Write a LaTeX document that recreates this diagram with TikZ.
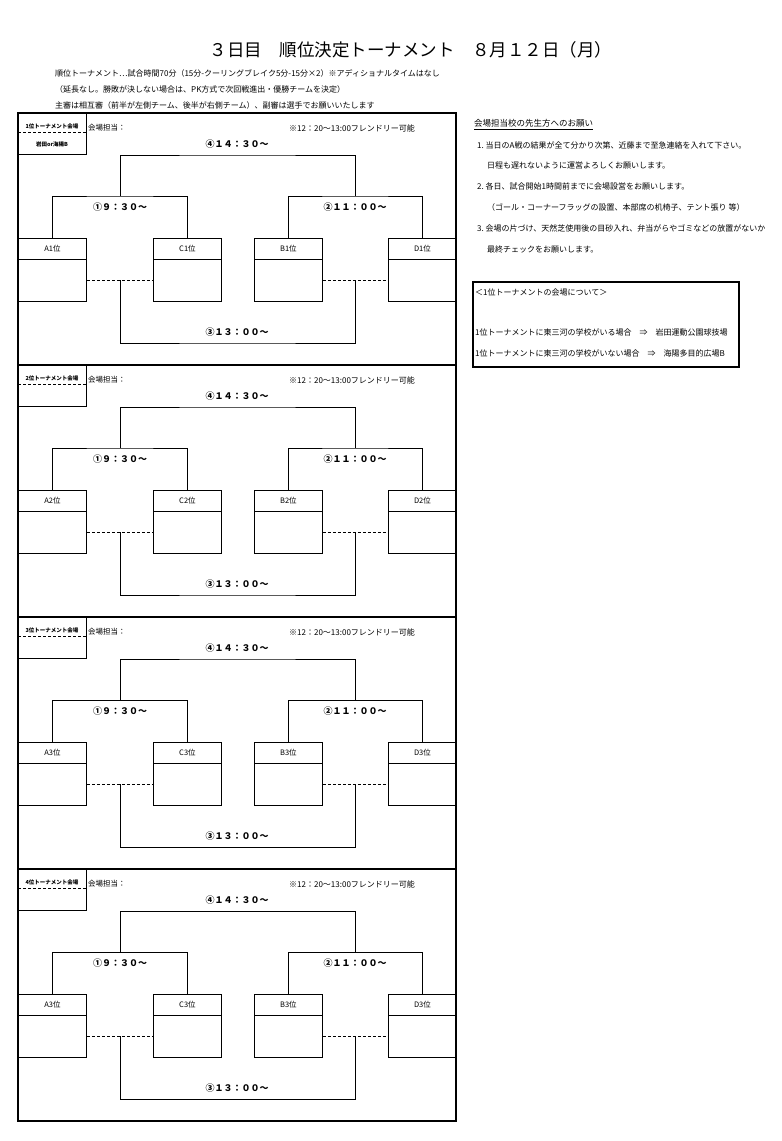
\documentclass[tikz,border=0pt]{standalone}
\usepackage{fontspec}
\setmainfont{Noto Sans CJK JP}
\begin{document}
\begin{tikzpicture}[x=1pt,y=-1pt,
  thinln/.style={line width=0.9pt},
  frame/.style={line width=2.2pt},
  dsh/.style={line width=0.9pt, dash pattern=on 3pt off 2pt},
  teambox/.style={draw, line width=0.9pt, minimum width=68pt, minimum height=63pt, inner sep=0pt, anchor=north west},
  venuebox/.style={draw, line width=0.9pt, minimum width=68pt, minimum height=41pt, inner sep=0pt, anchor=north west},
  lbl/.style={inner sep=0pt, font=\fontsize{7.5}{9}\selectfont},
  txt/.style={inner sep=0pt, anchor=west, font=\fontsize{8}{10}\selectfont},
  timelbl/.style={inner sep=0pt, font=\fontsize{9}{11}\selectfont\bfseries},
  small/.style={inner sep=0pt, font=\fontsize{5.5}{7}\selectfont\bfseries}]
\useasboundingbox (0,0) rectangle (782,1141);
% title and header
\node[inner sep=0pt, font=\fontsize{17.5}{20}\selectfont] (title) at (411,50) {３日目　順位決定トーナメント　８月１２日（月）};
\node[txt] (h1) at (55,73) {順位トーナメント…試合時間70分（15分-クーリングブレイク5分-15分×2）※アディショナルタイムはなし};
\node[txt] (h2) at (55,89) {（延長なし。勝敗が決しない場合は、PK方式で次回戦進出・優勝チームを決定）};
\node[txt] (h3) at (55,105) {主審は相互審（前半が左側チーム、後半が右側チーム）、副審は選手でお願いいたします};
% sections
\foreach \s/\T/\n/\k in {1/113/1/1, 2/365/2/2, 3/617/3/3, 4/869/4/3}{
  \draw[frame] (18,\T) rectangle (456,\T+252);
  \node[venuebox] (V\s) at (18,\T) {};
  \draw[dsh] (18,\T+19) -- (86,\T+19);
  \node[small] (VL\s) at (52,\T+13) {\n 位トーナメント会場};
  \node[lbl, anchor=west] (K\s) at (88,\T+15) {会場担当：};
  \node[txt] (FR\s) at (289,\T+15) {※12：20～13:00フレンドリー可能};
  % team boxes
  \node[teambox] (A\s) at (18,\T+125) {};
  \node[teambox] (C\s) at (153,\T+125) {};
  \node[teambox] (B\s) at (254,\T+125) {};
  \node[teambox] (D\s) at (388,\T+125) {};
  \foreach \b/\t in {A/A,C/C,B/B,D/D}{
    \draw[thinln] ([yshift=-21pt]\b\s.north west) -- ([yshift=-21pt]\b\s.north east);
    \node[lbl] at ([yshift=-10.5pt]\b\s.north) {\t\k 位};
  }
  % upper brackets
  \coordinate (L\s) at (120,\T+83);
  \coordinate (R\s) at (355,\T+83);
  \coordinate (F\s) at (237,\T+42);
  \draw[thinln] (A\s.north) |- (L\s) -| (C\s.north);
  \draw[thinln] (B\s.north) |- (R\s) -| (D\s.north);
  \draw[thinln] (L\s) |- (F\s) -| (R\s);
  \node[timelbl] (T4\s) at (237,\T+31) {④１４：３０～};
  \node[timelbl] (T1\s) at (120,\T+94) {①９：３０～};
  \node[timelbl] (T2\s) at (355,\T+94) {②１１：００～};
  % lower bracket
  \draw[dsh] ([yshift=21pt]A\s.south east) -- ([yshift=21pt]C\s.south west);
  \draw[dsh] ([yshift=21pt]B\s.south east) -- ([yshift=21pt]D\s.south west);
  \coordinate (LL\s) at (120,\T+167);
  \coordinate (RR\s) at (355,\T+167);
  \coordinate (G\s) at (237,\T+230);
  \draw[thinln] (LL\s) |- (G\s) -| (RR\s);
  \node[timelbl] (T3\s) at (237,\T+219) {③１３：００～};
}
\node[small] (VB1) at (52,144) {岩田or海陽B};
% right notes
\node[inner sep=0pt, anchor=west, font=\fontsize{8.5}{10}\selectfont] (nh) at (474,123) {会場担当校の先生方へのお願い};
\draw[line width=0.6pt] ([yshift=-2pt]nh.south west) -- ([yshift=-2pt]nh.south east);
\node[txt] (n1) at (477,145) {1.\ 当日のA戦の結果が全て分かり次第、近藤まで至急連絡を入れて下さい。};
\node[txt] (n1b) at (487,165) {日程も遅れないように運営よろしくお願いします。};
\node[txt] (n2) at (477,186) {2.\ 各日、試合開始1時間前までに会場設営をお願いします。};
\node[txt] (n2b) at (487,207) {（ゴール・コーナーフラッグの設置、本部席の机椅子、テント張り 等）};
\node[txt] (n3) at (477,228) {3.\ 会場の片づけ、天然芝使用後の目砂入れ、弁当がらやゴミなどの放置がないか};
\node[txt] (n3b) at (487,249) {最終チェックをお願いします。};
% venue box
\node[draw, line width=2pt, minimum width=266pt, minimum height=85pt, inner sep=0pt, anchor=north west] (vb) at (472,281) {};
\node[txt] (v1) at (475,292) {＜1位トーナメントの会場について＞};
\node[txt] (v2) at (475,332) {1位トーナメントに東三河の学校がいる場合\quad{}⇒\quad{}岩田運動公園球技場};
\node[txt] (v3) at (475,353) {1位トーナメントに東三河の学校がいない場合\quad{}⇒\quad{}海陽多目的広場B};
\end{tikzpicture}
\end{document}
